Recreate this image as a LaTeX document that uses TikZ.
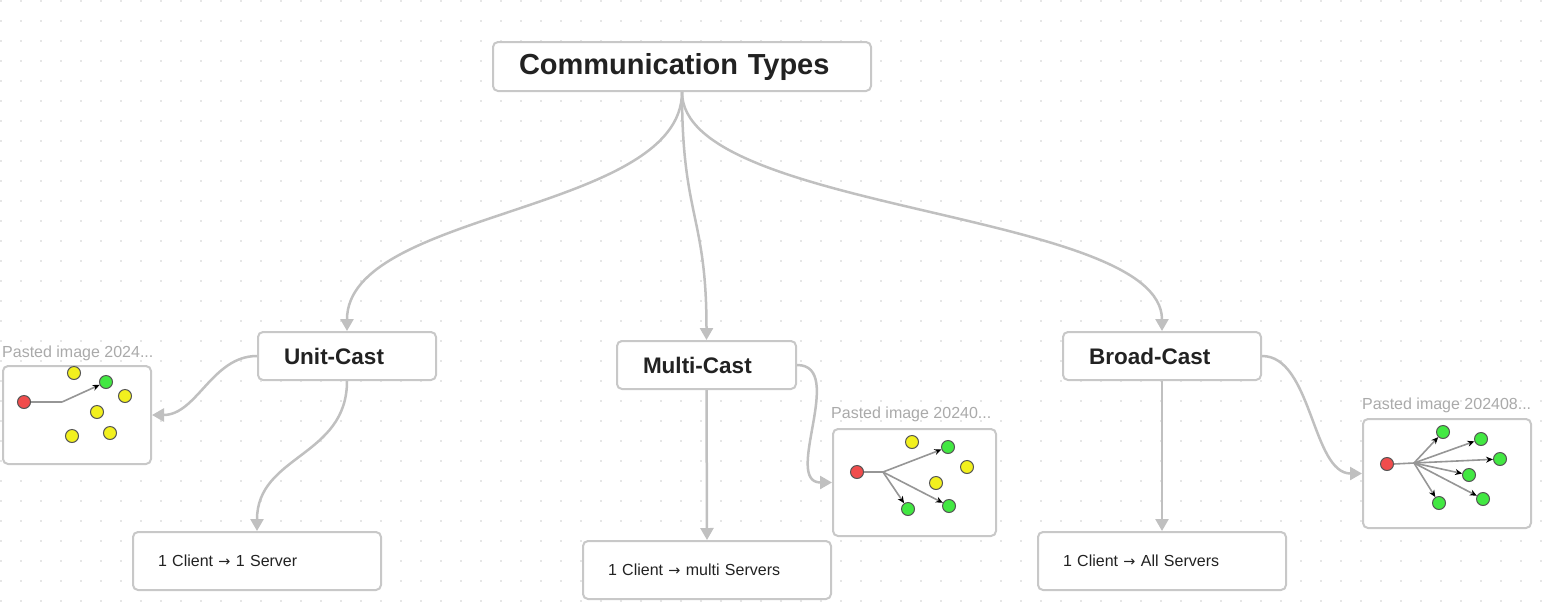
\documentclass[tikz,border=0pt]{standalone}
\usepackage{fontspec}
\setmainfont{Liberation Sans}
\newfontfamily\arrf{DejaVu Sans}[Scale=0.9]
\usetikzlibrary{arrows.meta}
\definecolor{connc}{RGB}{192,192,192}
\definecolor{bord}{RGB}{200,200,200}
\definecolor{dotc}{RGB}{230,230,230}
\definecolor{txt}{RGB}{34,34,34}
\definecolor{lblc}{RGB}{170,170,170}
\definecolor{redc}{RGB}{240,76,76}
\definecolor{greenc}{RGB}{66,232,66}
\definecolor{yellowc}{RGB}{242,240,30}
\definecolor{outl}{RGB}{85,85,85}
\definecolor{inl}{RGB}{150,150,150}
\newcommand{\toarr}{{\arrf →}}
\begin{document}
\begin{tikzpicture}[x=1pt,y=-1pt,
  box/.style={draw=bord, line width=2pt, rounded corners=5pt, fill=white,
    anchor=north west, inner ysep=0pt, align=left, text=txt},
  titlebox/.style={box, inner xsep=26pt, font=\fontsize{29}{33}\selectfont\bfseries},
  headbox/.style={box, inner xsep=26pt, minimum height=48pt, font=\fontsize{22.5}{26}\selectfont\bfseries},
  textbox/.style={box, inner xsep=25pt, minimum height=58pt, text width=198pt, font=\fontsize{16}{19}\selectfont},
  imgbox/.style={box, inner sep=0pt},
  lbl/.style={anchor=base west, inner sep=0pt, text=lblc, font=\fontsize{16}{19}\selectfont},
  conn/.style={draw=connc, line width=2.5pt, -{Triangle[length=12pt,width=13pt]}},
  dotn/.style={circle, minimum size=13pt, inner sep=0pt, draw=outl, line width=1pt},
  rc/.style={dotn, fill=redc},
  gc/.style={dotn, fill=greenc},
  yc/.style={dotn, fill=yellowc},
  inline/.style={draw=inl, line width=1.6pt},
  inarr/.style={inline, -{Stealth[length=7pt,width=6pt,black]}}
]
\useasboundingbox (0,0) rectangle (1548,606);
\fill[white] (0,0) rectangle (1548,606);
% dotted background
\foreach \i in {0,...,77}{
  \foreach \j in {0,...,30}{
    \fill[dotc] (20*\i,20*\j) rectangle +(1.8,1.8);
  }
}
% main nodes
\node[titlebox, minimum width=378pt, minimum height=49pt, text width=326pt] (title) at (492,41) {Communication Types};
\node[headbox, minimum width=178pt, text width=126pt] (unit) at (257,331) {Unit-Cast};
\node[headbox, minimum width=179pt, text width=127pt] (multi) at (616,340) {Multi-Cast};
\node[headbox, minimum width=198pt, text width=146pt] (broad) at (1062,331) {Broad-Cast};
\node[textbox] (tb1) at (132,531) {1 Client \toarr{} 1 Server};
\node[textbox] (tb2) at (582,540) {1 Client \toarr{} multi Servers};
\node[textbox] (tb3) at (1037,531) {1 Client \toarr{} All Servers};
% image boxes
\node[imgbox, minimum width=148pt, minimum height=98pt] (img1) at (2,365) {};
\node[imgbox, minimum width=163pt, minimum height=107pt] (img2) at (832,428) {};
\node[imgbox, minimum width=168pt, minimum height=109pt] (img3) at (1362,418) {};
\node[lbl] (l1) at (2,357) {Pasted image 2024...};
\node[lbl] (l2) at (831,418) {Pasted image 20240...};
\node[lbl] (l3) at (1362,409) {Pasted image 202408...};
% connectors
\draw[conn] (title.south) .. controls +(0,121) and +(0,-121) .. (unit.north);
\draw[conn] (title.south) .. controls +(0,125) and +(0,-125) .. (multi.north);
\draw[conn] (title.south) .. controls +(0,121) and +(0,-121) .. (broad.north);
\draw[conn] (unit.south) .. controls +(0,76) and +(0,-76) .. (tb1.north);
\draw[conn] (multi.south) -- (tb2.north);
\draw[conn] (broad.south) -- (tb3.north);
\draw[conn] (unit.west) .. controls +(-45,0) and +(45,0) .. (img1.east);
\draw[conn] (multi.east) .. controls +(50,0) and +(-50,0) .. (img2.west);
\draw[conn] (broad.east) .. controls +(50,0) and +(-50,0) .. (img3.west);
% image 1 content
\node[rc] (r1) at (24,402) {};
\node[gc] (g1) at (106,382) {};
\node[yc] (y11) at (74,373) {};
\node[yc] (y12) at (125,396) {};
\node[yc] (y13) at (97,412) {};
\node[yc] (y14) at (72,436) {};
\node[yc] (y15) at (110,433) {};
\coordinate (h1) at (62,402);
\draw[inline] (r1.east) -- (h1);
\draw[inarr] (h1) -- (g1);
% image 2 content
\node[rc] (r2) at (857,472) {};
\node[gc] (g21) at (948,447) {};
\node[gc] (g22) at (908,509) {};
\node[gc] (g23) at (949,506) {};
\node[yc] (y21) at (912,442) {};
\node[yc] (y22) at (967,467) {};
\node[yc] (y23) at (936,483) {};
\coordinate (h2) at (883,472);
\draw[inline] (r2.east) -- (h2);
\draw[inarr] (h2) -- (g21);
\draw[inarr] (h2) -- (g22);
\draw[inarr] (h2) -- (g23);
% image 3 content
\node[rc] (r3) at (1387,464) {};
\node[gc] (g31) at (1443,432) {};
\node[gc] (g32) at (1481,439) {};
\node[gc] (g33) at (1500,459) {};
\node[gc] (g34) at (1469,475) {};
\node[gc] (g35) at (1483,499) {};
\node[gc] (g36) at (1439,503) {};
\coordinate (h3) at (1414,463);
\draw[inline] (r3.east) -- (h3);
\foreach \g in {g31,g32,g33,g34,g35,g36}{
  \draw[inarr] (h3) -- (\g);
}
\end{tikzpicture}
\end{document}
